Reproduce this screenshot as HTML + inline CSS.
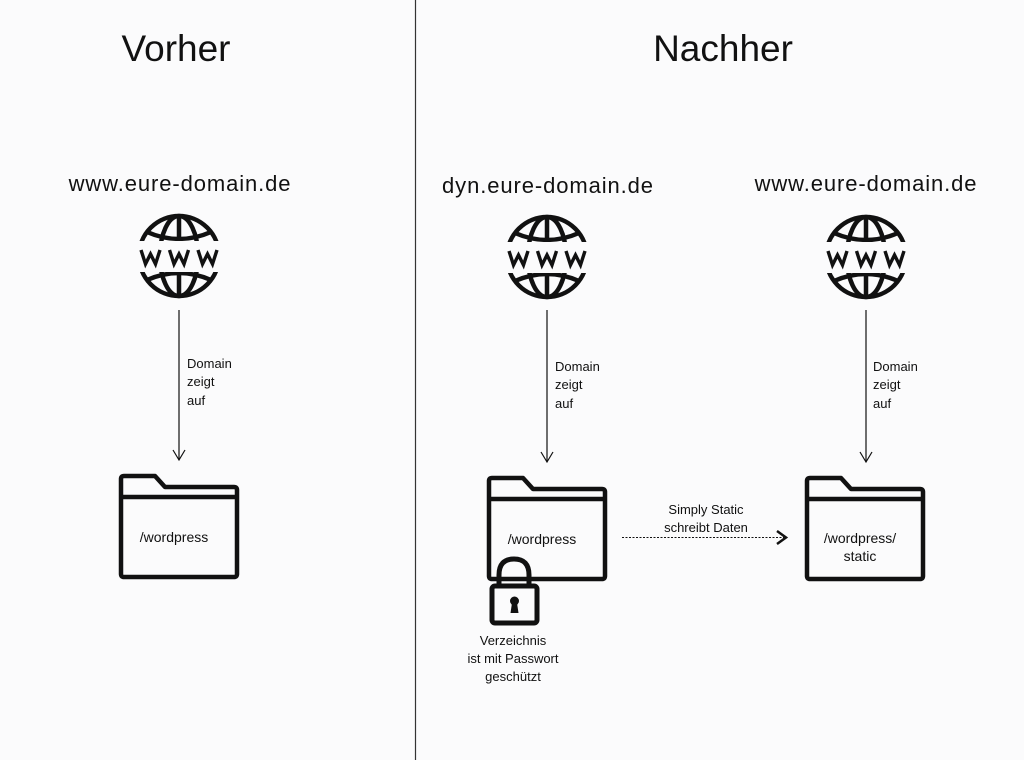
<!DOCTYPE html>
<html><head><meta charset="utf-8"><style>
html,body{margin:0;padding:0;background:#fbfbfc;}
svg{display:block}
text{font-family:"Liberation Sans",sans-serif;fill:#111}
</style></head><body>
<svg width="1024" height="760" viewBox="0 0 1024 760" xmlns="http://www.w3.org/2000/svg">
<defs>
<g id="globe">
  <g fill="none" stroke="#111" stroke-width="4.5">
    <circle cx="0" cy="0" r="40"/>
    <ellipse cx="0" cy="0" rx="19" ry="40"/>
    <line x1="0" y1="-40" x2="0" y2="40"/>
    <path d="M-32,-24 Q0,-10 32,-24"/>
    <path d="M-32,24 Q0,10 32,24"/>
  </g>
  <rect x="-46" y="-15" width="92" height="31" fill="#fbfbfc"/>
  <g fill="none" stroke="#111" stroke-width="3.4" stroke-linejoin="miter">
    <polyline points="-38,-6 -33.5,8 -28.5,-2 -23.5,8 -19,-6"/>
    <polyline points="-9.5,-6 -5,8 0,-2 5,8 9.5,-6"/>
    <polyline points="19,-6 23.5,8 28.5,-2 33.5,8 38,-6"/>
  </g>
</g>
<g id="folder" fill="none" stroke="#111" stroke-width="4.5" stroke-linejoin="round">
  <path d="M3,0 H34 L44,11 H113 Q116,11 116,14 V98 Q116,101 113,101 H3 Q0,101 0,98 V3 Q0,0 3,0 Z"/>
  <line x1="0" y1="21" x2="116" y2="21"/>
</g>
</defs>

<line x1="415.5" y1="0" x2="415.5" y2="760" stroke="#333" stroke-width="1.2"/>

<text x="176" y="61" font-size="37" text-anchor="middle">Vorher</text>
<text x="723" y="61" font-size="37" text-anchor="middle">Nachher</text>

<g font-size="22" letter-spacing="0.9">
<text x="180" y="191" text-anchor="middle">www.eure-domain.de</text>
<text x="548" y="193" text-anchor="middle">dyn.eure-domain.de</text>
<text x="866" y="191" text-anchor="middle">www.eure-domain.de</text>
</g>

<use href="#globe" x="179" y="256"/>
<use href="#globe" x="547" y="257"/>
<use href="#globe" x="866" y="257"/>

<g stroke="#111" stroke-width="1.2" fill="none">
  <line x1="179" y1="310" x2="179" y2="460"/>
  <polyline points="173,450 179,460 185,450"/>
  <line x1="547" y1="310" x2="547" y2="462"/>
  <polyline points="541,452 547,462 553,452"/>
  <line x1="866" y1="310" x2="866" y2="462"/>
  <polyline points="860,452 866,462 872,452"/>
  <line x1="622" y1="537.5" x2="784" y2="537.5" stroke-dasharray="2,1.5" stroke-width="1"/>
</g>
<polyline points="777,531 786,537.5 777,544" fill="none" stroke="#111" stroke-width="2.5"/>

<g font-size="13">
<text x="187" y="368">Domain</text><text x="187" y="386">zeigt</text><text x="187" y="405">auf</text>
<text x="555" y="371">Domain</text><text x="555" y="389">zeigt</text><text x="555" y="408">auf</text>
<text x="873" y="371">Domain</text><text x="873" y="389">zeigt</text><text x="873" y="408">auf</text>
<text x="706" y="514" text-anchor="middle">Simply Static</text>
<text x="706" y="532" text-anchor="middle">schreibt Daten</text>
</g>

<use href="#folder" x="121" y="476"/>
<use href="#folder" x="489" y="478"/>
<use href="#folder" x="807" y="478"/>

<g font-size="14">
<text x="174" y="542" text-anchor="middle">/wordpress</text>
<text x="542" y="544" text-anchor="middle">/wordpress</text>
<text x="860" y="543" text-anchor="middle">/wordpress/</text>
<text x="860" y="561" text-anchor="middle">static</text>
</g>

<path d="M499,586 V575 Q499,559 514,559 Q529,559 529,575 V586" fill="none" stroke="#111" stroke-width="5"/>
<rect x="492" y="586" width="45" height="37" rx="3" fill="#fbfbfc" stroke="#111" stroke-width="5"/>
<circle cx="514.5" cy="601" r="4.5" fill="#111"/>
<path d="M512,603 L510.5,613 H518.5 L517,603 Z" fill="#111"/>

<g font-size="13">
<text x="513" y="645" text-anchor="middle">Verzeichnis</text>
<text x="513" y="663" text-anchor="middle">ist mit Passwort</text>
<text x="513" y="681" text-anchor="middle">geschützt</text>
</g>
</svg>
</body></html>
